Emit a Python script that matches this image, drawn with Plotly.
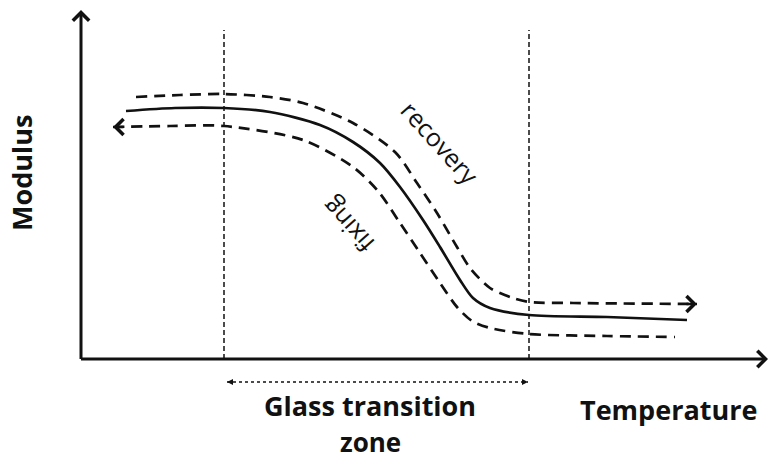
import plotly.graph_objects as go

# ---- data (temperature / modulus in arbitrary diagram units) ----
solid_T = [45, 94, 143, 189, 239, 272, 299, 319, 342, 359, 379, 392, 409, 448, 526, 606]
solid_M = [248, 251, 251, 247, 234, 217, 196, 172, 139, 112, 79, 61, 51, 44, 42, 39]

recovery_T = [55, 99, 143, 189, 222, 272, 314, 336, 356, 376, 389, 409, 432, 448, 492, 616]
recovery_M = [262, 264, 265, 262, 256, 236, 207, 176, 146, 112, 91, 71, 61, 57, 56, 55]

fixing_T = [32, 89, 143, 222, 272, 297, 319, 339, 359, 376, 391, 409, 448, 526, 594]
fixing_M = [232, 233, 233, 219, 192, 168, 136, 106, 76, 52, 38, 31, 25, 23, 22]

zone_bounds = [143, 448]
zone_top = 329
zone_arrow_T = [146, 447]
zone_arrow_M = -23

axis_T_max = 687
axis_M_max = 349

INK = "#111111"
FONT = "Open Sans"

fig = go.Figure()

# vertical dashed zone boundaries
for zb in zone_bounds:
    fig.add_trace(go.Scatter(x=[zb, zb], y=[0, zone_top], mode="lines",
                             line=dict(color=INK, width=1.5, dash="5px,3px"),
                             hoverinfo="skip", showlegend=False))

# curves
fig.add_trace(go.Scatter(x=recovery_T, y=recovery_M, mode="lines",
                         line=dict(color=INK, width=2.7, dash="11px,7px", shape="spline", smoothing=0.8),
                         showlegend=False))
fig.add_trace(go.Scatter(x=solid_T, y=solid_M, mode="lines",
                         line=dict(color=INK, width=2.7, shape="spline", smoothing=0.8),
                         showlegend=False))
fig.add_trace(go.Scatter(x=fixing_T, y=fixing_M, mode="lines",
                         line=dict(color=INK, width=2.7, dash="11px,7px", shape="spline", smoothing=0.8),
                         showlegend=False))

# glass transition zone double arrow
fig.add_trace(go.Scatter(x=zone_arrow_T, y=[zone_arrow_M, zone_arrow_M], mode="lines+markers",
                         line=dict(color=INK, width=1.3, dash="3px,3px"),
                         marker=dict(symbol=["arrow-left", "arrow-right"], size=6, color=INK,
                                     line=dict(width=0)),
                         showlegend=False))

annotations = []
# axes with arrows
annotations.append(dict(x=0, y=axis_M_max, ax=0, ay=-1.5, xref="x", yref="y", axref="x", ayref="y",
                        text="", showarrow=True, arrowhead=4, arrowwidth=3, arrowsize=1.05, arrowcolor=INK))
annotations.append(dict(x=axis_T_max, y=0, ax=-1.5, ay=0, xref="x", yref="y", axref="x", ayref="y",
                        text="", showarrow=True, arrowhead=4, arrowwidth=3, arrowsize=1.05, arrowcolor=INK))
# curve arrowheads
annotations.append(dict(x=recovery_T[-1], y=recovery_M[-1], ax=recovery_T[-1] - 12, ay=recovery_M[-1],
                        xref="x", yref="y", axref="x", ayref="y",
                        text="", showarrow=True, arrowhead=4, arrowwidth=2.7, arrowsize=1.15, arrowcolor=INK))
annotations.append(dict(x=fixing_T[0], y=fixing_M[0], ax=fixing_T[0] + 12, ay=fixing_M[0],
                        xref="x", yref="y", axref="x", ayref="y",
                        text="", showarrow=True, arrowhead=4, arrowwidth=2.7, arrowsize=1.15, arrowcolor=INK))

# texts
annotations += [
    dict(x=-60, y=186, text="Modulus", textangle=-90, showarrow=False,
         font=dict(family=FONT, size=27, color=INK, weight="bold")),
    dict(x=587, y=-50, text="Temperature", showarrow=False,
         font=dict(family=FONT, size=27, color=INK, weight="bold")),
    dict(x=289, y=-46, text="Glass transition", showarrow=False,
         font=dict(family=FONT, size=27, color=INK, weight="bold")),
    dict(x=289, y=-83, text="zone", showarrow=False,
         font=dict(family=FONT, size=26, color=INK, weight="bold")),
    dict(x=359, y=217, text="recovery", textangle=48, showarrow=False,
         font=dict(family=FONT, size=25, color=INK)),
    dict(x=267, y=133, text="fixing", textangle=-132, showarrow=False,
         font=dict(family=FONT, size=25, color=INK)),
]

fig.update_layout(
    width=769, height=462,
    margin=dict(l=0, r=0, t=0, b=0),
    paper_bgcolor="white", plot_bgcolor="white",
    xaxis=dict(range=[-81, 688], visible=False, fixedrange=True),
    yaxis=dict(range=[-103, 359], visible=False, fixedrange=True),
    annotations=annotations,
    showlegend=False,
)

fig.write_html("out.html", config={"displayModeBar": False},
               post_script="document.body.style.margin='0';document.body.style.padding='0';")
